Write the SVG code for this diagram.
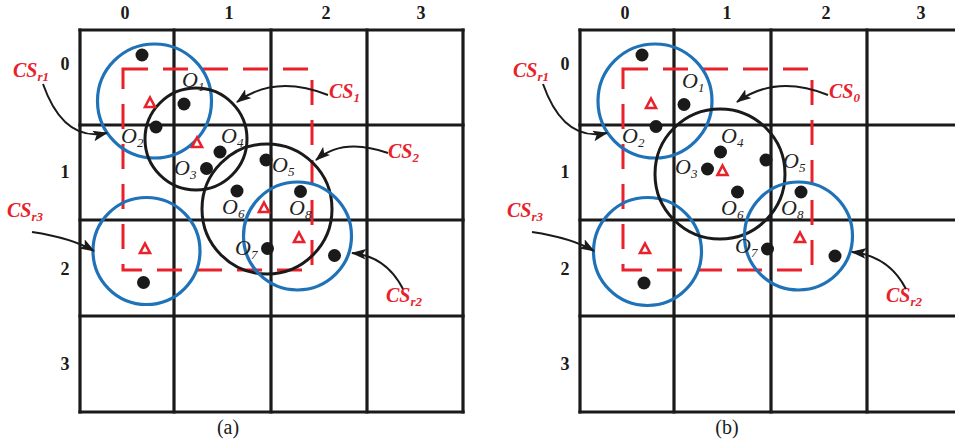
<svg xmlns="http://www.w3.org/2000/svg" xmlns:xlink="http://www.w3.org/1999/xlink" width="955" height="448" viewBox="0 0 955 448">
<style>
.grid{stroke:#1a1a1a;stroke-width:3.2;fill:none;stroke-linecap:square}
.rect{stroke:#e8212b;stroke-width:3;fill:none;stroke-dasharray:25 15}
.blue{stroke:#1f72b8;stroke-width:3.2;fill:none}
.blk{stroke:#1a1a1a;stroke-width:3;fill:none}
.dot{fill:#1a1a1a}
.tri{fill:#fff;stroke:#e8212b;stroke-width:2.6;stroke-linejoin:miter}
.num{font-family:"Liberation Serif",serif;font-weight:bold;font-size:18px;fill:#1a1a1a;text-anchor:middle}
.ol{font-family:"Liberation Serif",serif;font-style:italic;font-size:22px;fill:#222}
.ol tspan{font-size:13px}
.cs{font-family:"Liberation Serif",serif;font-style:italic;font-weight:bold;font-size:20px;fill:#e8212b}
.cs tspan{font-size:13px}
.arr{stroke:#1a1a1a;stroke-width:2;fill:none;marker-end:url(#ah)}
.cap{font-family:"Liberation Serif",serif;font-size:20px;fill:#1a1a1a;text-anchor:middle}
</style>
<defs>
<marker id="ah" viewBox="0 0 14 10" refX="13" refY="5" markerWidth="15" markerHeight="11" markerUnits="userSpaceOnUse" orient="auto">
<path d="M0,0 L14,5 L0,10 L3,5 z" fill="#1a1a1a"/>
</marker>
<path id="tri" d="M0,-5.5 L5,4 L-5,4 z"/>
</defs>
<rect width="955" height="448" fill="#fff"/>

<!-- Panel (a) -->
<g id="grid-a" class="grid">
<path d="M80,30 V412 M174,30 V412 M271,30 V412 M367,30 V412 M463,30 V412"/>
<path d="M80,30 H463 M80,125 H463 M80,220 H463 M80,316 H463 M80,412 H463"/>
</g>
<g id="axis-a">
<text class="num" x="125" y="19">0</text>
<text class="num" x="229" y="19">1</text>
<text class="num" x="326" y="19">2</text>
<text class="num" x="421" y="19">3</text>
<text class="num" x="65" y="70">0</text>
<text class="num" x="65" y="178">1</text>
<text class="num" x="65" y="275">2</text>
<text class="num" x="65" y="370">3</text>
</g>
<g id="rect-a"><rect class="rect" x="123" y="69" width="189" height="201"/></g>
<g id="CSr1-a"><circle class="blue" cx="154.5" cy="101" r="57"/></g>
<g id="CSr3-a"><circle class="blue" cx="146.5" cy="251" r="53.5"/></g>
<g id="CS1-a"><circle class="blk" cx="196" cy="139" r="51"/></g>
<g id="CS2-a"><circle class="blk" cx="267" cy="209" r="65"/></g>
<g id="CSr2-a"><circle class="blue" cx="297.5" cy="236" r="54"/></g>
<g id="tri-a">
<use xlink:href="#tri" class="tri" x="150" y="103"/>
<use xlink:href="#tri" class="tri" x="197" y="143"/>
<use xlink:href="#tri" class="tri" x="264" y="208"/>
<use xlink:href="#tri" class="tri" x="299" y="238"/>
<use xlink:href="#tri" class="tri" x="145" y="249"/>
</g>
<g id="dots-a" class="dot">
<circle cx="142" cy="55" r="6.5"/>
<circle cx="184" cy="104" r="6.5"/>
<circle cx="156" cy="127" r="6.5"/>
<circle cx="220" cy="152" r="6.5"/>
<circle cx="206.5" cy="168.5" r="6.5"/>
<circle cx="266" cy="160" r="6.5"/>
<circle cx="237" cy="191" r="6.5"/>
<circle cx="300.5" cy="191.5" r="6.5"/>
<circle cx="267.5" cy="248.5" r="6.5"/>
<circle cx="334.5" cy="255.5" r="6.5"/>
<circle cx="143.5" cy="282.5" r="6.5"/>
</g>
<g id="olabels-a">
<text class="ol" x="182" y="87">O<tspan dy="4">1</tspan></text>
<text class="ol" x="121" y="143">O<tspan dy="4">2</tspan></text>
<text class="ol" x="174" y="175">O<tspan dy="4">3</tspan></text>
<text class="ol" x="221" y="143">O<tspan dy="4">4</tspan></text>
<text class="ol" x="272" y="172">O<tspan dy="4">5</tspan></text>
<text class="ol" x="222" y="214">O<tspan dy="4">6</tspan></text>
<text class="ol" x="235" y="255">O<tspan dy="4">7</tspan></text>
<text class="ol" x="289" y="215">O<tspan dy="4">8</tspan></text>
</g>
<g id="cslabels-a">
<text class="cs" x="13" y="77">CS<tspan dy="4">r1</tspan></text>
<text class="cs" x="7" y="217">CS<tspan dy="4">r3</tspan></text>
<text class="cs" x="329" y="98">CS<tspan dy="4">1</tspan></text>
<text class="cs" x="388" y="158">CS<tspan dy="4">2</tspan></text>
<text class="cs" x="386" y="302">CS<tspan dy="4">r2</tspan></text>
</g>
<g id="connectors-a">
<path class="arr" d="M43,84 C55,118 75,140 107,133"/>
<path class="arr" d="M32,232 Q72,238 94,251"/>
<path class="arr" d="M328,95 Q275,74 237,102"/>
<path class="arr" d="M388,153 Q343,137 316,160"/>
<path class="arr" d="M403,289 Q386,256 352,253"/>
</g>
<text class="cap" x="228" y="434">(a)</text>

<!-- Panel (b) -->
<g id="grid-b" class="grid">
<path d="M580,30 V412 M674,30 V412 M771,30 V412 M867,30 V412 M963,30 V412"/>
<path d="M580,30 H963 M580,125 H963 M580,220 H963 M580,316 H963 M580,412 H963"/>
</g>
<g id="axis-b">
<text class="num" x="625" y="19">0</text>
<text class="num" x="727" y="19">1</text>
<text class="num" x="826" y="19">2</text>
<text class="num" x="921" y="19">3</text>
<text class="num" x="565" y="70">0</text>
<text class="num" x="565" y="178">1</text>
<text class="num" x="565" y="275">2</text>
<text class="num" x="565" y="370">3</text>
</g>
<g id="rect-b"><rect class="rect" x="623" y="69" width="189" height="201"/></g>
<g id="CSr1-b"><circle class="blue" cx="655" cy="101" r="57"/></g>
<g id="CSr3-b"><circle class="blue" cx="647.5" cy="251.5" r="54"/></g>
<g id="CS0-b"><circle class="blk" cx="720" cy="174" r="65"/></g>
<g id="CSr2-b"><circle class="blue" cx="798.5" cy="236" r="54"/></g>
<g id="tri-b">
<use xlink:href="#tri" class="tri" x="651" y="104"/>
<use xlink:href="#tri" class="tri" x="722.5" y="171"/>
<use xlink:href="#tri" class="tri" x="800" y="238"/>
<use xlink:href="#tri" class="tri" x="645" y="249"/>
</g>
<g id="dots-b" class="dot">
<circle cx="642" cy="55" r="6.5"/>
<circle cx="684" cy="104.5" r="6.5"/>
<circle cx="656" cy="126.5" r="6.5"/>
<circle cx="720.5" cy="152" r="6.5"/>
<circle cx="707.5" cy="169" r="6.5"/>
<circle cx="766" cy="160" r="6.5"/>
<circle cx="737.5" cy="192" r="6.5"/>
<circle cx="801" cy="192" r="6.5"/>
<circle cx="767.5" cy="249" r="6.5"/>
<circle cx="835" cy="256" r="6.5"/>
<circle cx="644" cy="283" r="6.5"/>
</g>
<g id="olabels-b">
<text class="ol" x="682" y="88">O<tspan dy="4">1</tspan></text>
<text class="ol" x="622" y="143">O<tspan dy="4">2</tspan></text>
<text class="ol" x="675" y="174">O<tspan dy="4">3</tspan></text>
<text class="ol" x="721" y="143">O<tspan dy="4">4</tspan></text>
<text class="ol" x="783" y="168">O<tspan dy="4">5</tspan></text>
<text class="ol" x="721" y="215">O<tspan dy="4">6</tspan></text>
<text class="ol" x="735" y="253">O<tspan dy="4">7</tspan></text>
<text class="ol" x="781" y="215">O<tspan dy="4">8</tspan></text>
</g>
<g id="cslabels-b">
<text class="cs" x="513" y="77">CS<tspan dy="4">r1</tspan></text>
<text class="cs" x="507" y="217">CS<tspan dy="4">r3</tspan></text>
<text class="cs" x="829" y="98">CS<tspan dy="4">0</tspan></text>
<text class="cs" x="886" y="302">CS<tspan dy="4">r2</tspan></text>
</g>
<g id="connectors-b">
<path class="arr" d="M543,84 C555,118 575,140 607,133"/>
<path class="arr" d="M532,232 Q572,238 594,251"/>
<path class="arr" d="M828,95 Q776,74 737,102"/>
<path class="arr" d="M906,289 Q889,256 852,252"/>
</g>
<text class="cap" x="727" y="434">(b)</text>
</svg>
